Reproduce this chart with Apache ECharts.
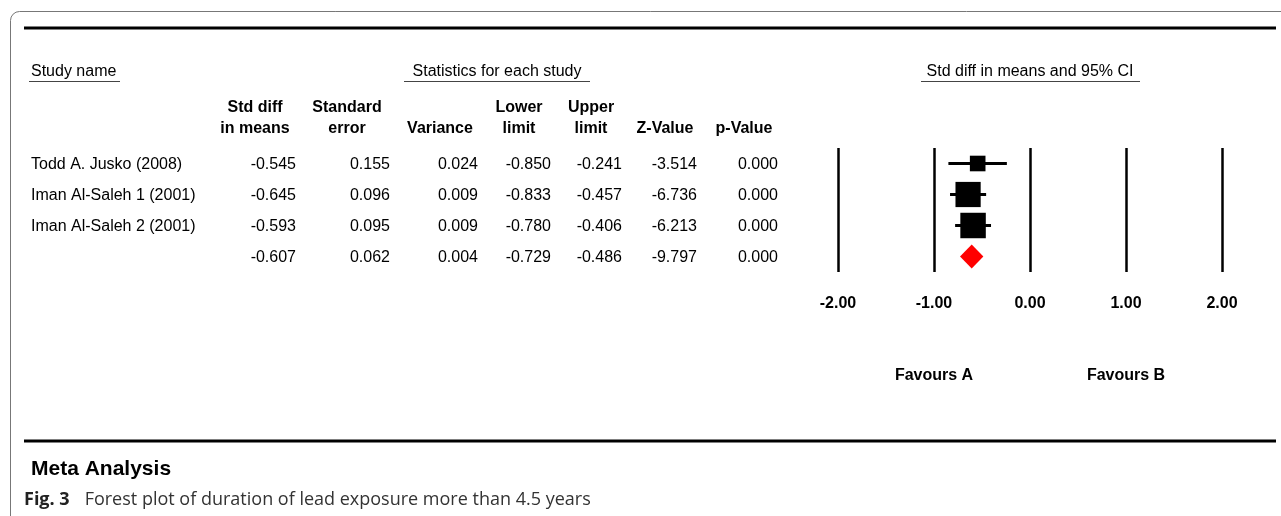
<!DOCTYPE html>
<html><head><meta charset="utf-8">
<script src="https://cdn.jsdelivr.net/npm/echarts@6/dist/echarts.min.js"></script>
<style>html,body{margin:0;padding:0;background:#fff}#c{width:1281px;height:516px}</style>
</head><body><div id="c"></div>
<script>
// ---- data ----
const studies = ['Todd A. Jusko (2008)', 'Iman Al-Saleh 1 (2001)', 'Iman Al-Saleh 2 (2001)', ''];
const stdDiff = [-0.545, -0.645, -0.593, -0.607];
const stdErr = [0.155, 0.096, 0.095, 0.062];
const variance = [0.024, 0.009, 0.009, 0.004];
const lower = [-0.850, -0.833, -0.780, -0.729];
const upper = [-0.241, -0.457, -0.406, -0.486];
const zValue = [-3.514, -6.736, -6.213, -9.797];
const pValue = [0.000, 0.000, 0.000, 0.000];
const isSummary = [false, false, false, true];
const xMin = -2, xMax = 2, xStep = 1;
const headers1 = ['Std diff', 'Standard', '', 'Lower', 'Upper', '', ''];
const headers2 = ['in means', 'error', 'Variance', 'limit', 'limit', 'Z-Value', 'p-Value'];
const favourLabels = ['Favours A', 'Favours B'];
const favourAt = [-1, 1];
const titles = ['Study name', 'Statistics for each study', 'Std diff in means and 95% CI'];
const metaTitle = 'Meta Analysis';
const captionBold = 'Fig. 3';
const captionText = 'Forest plot of duration of lead exposure more than 4.5 years';

// ---- layout ----
const FONT = '"Liberation Sans", Arial, sans-serif';
const colRight = [296, 390, 478, 551, 622, 697, 778];
const colCenter = [255, 347, 440, 519, 591, 665, 744];
const columns = [stdDiff, stdErr, variance, lower, upper, zValue, pValue];
const TY = 1.5; // text vertical nudge

const chart = echarts.init(document.getElementById('c'), null, {renderer: 'canvas'});

const studyIdx = studies.map((s, i) => i).filter(i => !isSummary[i]);
const sumIdx = studies.map((s, i) => i).filter(i => isSummary[i]);

const option = {
  backgroundColor: '#fff',
  animation: false,
  grid: {left: 838, right: 59, top: 148, height: 124},
  xAxis: {
    type: 'value', min: xMin, max: xMax, interval: xStep,
    axisLine: {show: false}, axisTick: {show: false},
    splitLine: {show: true, lineStyle: {color: '#000', width: 2.5}},
    axisLabel: {fontFamily: FONT, fontSize: 16, fontWeight: 'bold', color: '#000', margin: 24,
      formatter: v => v.toFixed(2)}
  },
  yAxis: {
    type: 'category', data: studies, inverse: true,
    axisLine: {show: false}, axisTick: {show: false}, axisLabel: {show: false}, splitLine: {show: false}
  },
  series: [
    {
      type: 'custom', name: 'ci',
      data: studyIdx.map(i => [lower[i], upper[i], i]),
      renderItem: (params, api) => {
        const a = api.coord([api.value(0), api.value(2)]);
        const b = api.coord([api.value(1), api.value(2)]);
        return {type: 'line', shape: {x1: a[0], y1: a[1], x2: b[0], y2: b[1]},
          style: {stroke: '#000', lineWidth: 3}};
      },
      z: 2
    },
    {
      type: 'scatter', name: 'est',
      data: studyIdx.map(i => [stdDiff[i], i, stdErr[i]]),
      symbol: 'rect',
      symbolSize: v => 2.42 / v[2],
      itemStyle: {color: '#000', opacity: 1},
      z: 3
    },
    {
      type: 'custom', name: 'summary',
      data: sumIdx.map(i => [lower[i], stdDiff[i], upper[i], i]),
      renderItem: (params, api) => {
        const l = api.coord([api.value(0), api.value(3)]);
        const m = api.coord([api.value(1), api.value(3)]);
        const u = api.coord([api.value(2), api.value(3)]);
        const h = 12;
        return {type: 'polygon', shape: {points: [[l[0], l[1]], [m[0], m[1] - h], [u[0], u[1]], [m[0], m[1] + h]]},
          style: {fill: '#ff0000'}};
      },
      z: 3
    }
  ]
};
chart.setOption(option);

// ---- table & decorations ----
function rowY(i) { return chart.convertToPixel({gridIndex: 0}, [0, i])[1]; }
function xPix(v) { return chart.convertToPixel({gridIndex: 0}, [v, 0])[0]; }
function txt(x, y, text, align, opts) {
  return Object.assign({type: 'text', x: x, y: y + TY, silent: true,
    style: Object.assign({text: text, align: align, verticalAlign: 'middle', fontFamily: FONT,
      fontSize: 16, fill: '#000'}, opts || {})});
}
const g = [];
// frame
g.push({type: 'rect', shape: {x: 10.5, y: 11.5, width: 1300, height: 520, r: 9},
  style: {fill: 'none', stroke: '#777', lineWidth: 1}, silent: true});
g.push({type: 'line', shape: {x1: 24, y1: 28, x2: 1276, y2: 28}, style: {stroke: '#000', lineWidth: 3}, silent: true});
g.push({type: 'line', shape: {x1: 24, y1: 441, x2: 1276, y2: 441}, style: {stroke: '#000', lineWidth: 3}, silent: true});
// section titles
g.push(txt(31, 70, titles[0], 'left'));
g.push({type: 'line', shape: {x1: 29, y1: 81.5, x2: 120, y2: 81.5}, style: {stroke: '#444', lineWidth: 1}, silent: true});
g.push(txt(497, 70, titles[1], 'center'));
g.push({type: 'line', shape: {x1: 404, y1: 81.5, x2: 590, y2: 81.5}, style: {stroke: '#444', lineWidth: 1}, silent: true});
g.push(txt(1030, 70, titles[2], 'center'));
g.push({type: 'line', shape: {x1: 921, y1: 81.5, x2: 1140, y2: 81.5}, style: {stroke: '#444', lineWidth: 1}, silent: true});
// headers
for (let c = 0; c < colCenter.length; c++) {
  if (headers1[c]) g.push(txt(colCenter[c], 106, headers1[c], 'center', {fontWeight: 'bold'}));
  g.push(txt(colCenter[c], 127, headers2[c], 'center', {fontWeight: 'bold'}));
}
// rows
for (let i = 0; i < studies.length; i++) {
  const y = rowY(i);
  if (studies[i]) g.push(txt(31, y, studies[i], 'left'));
  for (let c = 0; c < columns.length; c++) {
    g.push(txt(colRight[c], y, columns[c][i].toFixed(3), 'right'));
  }
}
// favours
for (let k = 0; k < favourLabels.length; k++) {
  g.push(txt(xPix(favourAt[k]), 374, favourLabels[k], 'center', {fontWeight: 'bold'}));
}
// captions
g.push(txt(31, 468, metaTitle, 'left', {fontSize: 21, fontWeight: 'bold'}));
g.push({type: 'text', x: 24, y: 500, silent: true, style: {
  text: '{b|' + captionBold + '}{n|' + captionText + '}', verticalAlign: 'middle', align: 'left',
  rich: {
    b: {fontFamily: '"Open Sans", sans-serif', fontSize: 18, fontWeight: 'bold', fill: '#222'},
    n: {fontFamily: '"Open Sans", sans-serif', fontSize: 18, fill: '#333', padding: [0, 0, 0, 15]}
  }}});
chart.setOption({graphic: {elements: g}});
</script>
</body></html>
